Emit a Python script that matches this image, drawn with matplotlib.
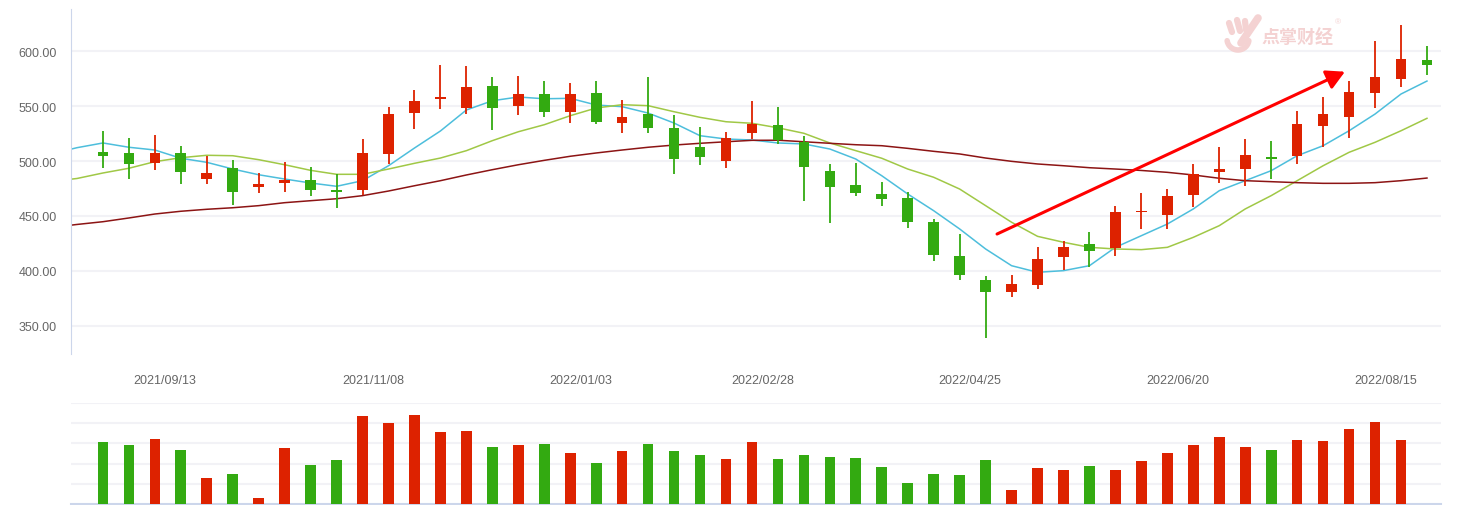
import numpy as np
import pandas as pd
import matplotlib.pyplot as plt
from matplotlib.lines import Line2D

# weekly bars, spring festival week (2022-01-31) closed
dates = pd.date_range('2021-08-30', '2022-08-29', freq='7D')
dates = dates[dates != pd.Timestamp('2022-01-31')]
labels = [d.strftime('%Y/%m/%d') for d in dates]

opens = [508.2, 507.3, 498.5, 507.3, 483.9, 493.6, 476.6, 480.3, 482.7, 473.6,
         473.9, 506.6, 543.9, 556.5, 548.5, 568.2, 550.3, 560.9, 544.8, 561.8,
         534.8, 542.7, 530.0, 512.7, 500.3, 525.7, 532.7, 517.3, 490.9, 478.2,
         470.0, 466.4, 444.5, 413.6, 391.8, 381.2, 387.5, 413.0, 424.5, 420.6,
         453.2, 451.2, 469.4, 490.3, 493.0, 503.6, 504.8, 532.1, 540.3, 562.1,
         574.8, 591.8]
closes = [504.8, 497.5, 507.3, 490.3, 489.1, 472.1, 479.1, 482.7, 473.9, 472.1,
          507.3, 542.7, 554.5, 557.3, 567.3, 548.5, 560.9, 544.8, 560.9, 535.7,
          540.0, 530.3, 502.1, 503.9, 520.9, 533.6, 519.4, 494.8, 476.6, 471.2,
          465.7, 444.8, 414.8, 396.6, 381.2, 388.2, 410.9, 421.8, 418.5, 453.6,
          453.8, 468.2, 488.2, 492.7, 505.5, 502.1, 533.6, 542.7, 562.7, 576.4,
          592.7, 587.5]
highs = [527.0, 520.9, 523.6, 513.6, 504.8, 500.9, 488.8, 498.8, 494.5, 488.2,
         520.0, 549.1, 564.5, 587.3, 586.4, 576.4, 577.3, 572.7, 570.9, 572.7,
         555.5, 576.4, 541.8, 530.9, 526.4, 554.5, 549.1, 522.7, 497.3, 498.2,
         480.9, 471.8, 447.3, 433.6, 395.5, 396.4, 421.8, 427.3, 435.5, 459.1,
         470.9, 474.5, 497.3, 512.7, 520.0, 518.2, 545.5, 558.2, 572.7, 609.1,
         623.6, 604.5]
lows = [493.6, 483.6, 492.1, 479.4, 479.4, 460.3, 471.2, 472.1, 468.5, 457.5,
        469.1, 497.3, 529.4, 547.5, 542.7, 528.5, 542.1, 540.3, 534.8, 533.9,
        525.7, 525.7, 488.5, 496.6, 493.9, 520.3, 515.7, 463.9, 443.9, 468.5,
        459.4, 439.4, 409.4, 392.1, 339.4, 376.6, 383.9, 401.2, 403.9, 413.9,
        438.5, 438.5, 458.5, 480.3, 477.6, 483.9, 497.6, 513.0, 521.2, 548.5,
        567.5, 578.5]
# last week has no volume bar yet
volume = [3.07, 2.92, 3.22, 2.67, 1.27, 1.47, 0.32, 2.77, 1.92, 2.17,
          4.37, 4.02, 4.42, 3.57, 3.62, 2.82, 2.92, 2.97, 2.52, 2.02,
          2.62, 2.97, 2.62, 2.42, 2.22, 3.07, 2.22, 2.42, 2.32, 2.27,
          1.82, 1.02, 1.47, 1.42, 2.17, 0.67, 1.77, 1.67, 1.87, 1.67,
          2.12, 2.52, 2.92, 3.32, 2.82, 2.67, 3.17, 3.12, 3.72, 4.07,
          3.17]

# moving averages start two weeks before the first visible bar
ma_x = np.arange(-2, 52)
ma5 = [506.4, 512.1, 516.4, 512.5, 510.0, 502.5, 498.8, 492.7, 487.5, 483.6,
       480.0, 477.0, 482.1, 495.7, 511.8, 527.3, 546.4, 554.8, 558.2, 556.6,
       557.0, 550.9, 549.4, 543.6, 534.5, 523.0, 520.0, 519.1, 516.4, 515.5,
       510.9, 501.8, 486.6, 470.0, 454.8, 438.2, 420.0, 404.8, 398.8, 400.3,
       404.8, 421.5, 432.1, 442.7, 456.4, 473.0, 482.1, 491.2, 504.8, 513.9,
       527.5, 542.7, 560.9, 572.7]
ma10 = [481.4, 484.1, 489.1, 493.4, 499.4, 503.0, 505.2, 504.8, 501.2, 496.6,
        491.5, 487.9, 487.9, 492.7, 497.9, 502.7, 509.4, 518.5, 526.6, 533.0,
        541.2, 548.2, 551.2, 550.3, 544.8, 539.7, 535.7, 534.3, 530.2, 525.2,
        516.4, 509.4, 502.5, 492.7, 485.2, 474.5, 459.4, 444.3, 431.5, 426.1,
        421.5, 420.0, 419.4, 421.5, 430.6, 441.2, 456.4, 468.5, 482.1, 495.7,
        507.9, 517.0, 527.5, 538.8]
ma30 = [439.5, 442.3, 444.8, 448.2, 451.8, 454.3, 456.1, 457.5, 459.4, 462.1,
        463.9, 465.7, 468.5, 472.7, 477.5, 482.1, 487.3, 492.1, 496.6, 500.6,
        504.3, 507.3, 510.0, 512.5, 514.5, 516.1, 517.5, 518.8, 518.9, 517.5,
        516.1, 514.8, 513.9, 511.5, 508.8, 506.4, 502.7, 499.7, 497.3, 495.7,
        493.9, 492.7, 491.4, 489.7, 487.3, 484.3, 482.1, 481.2, 480.3, 479.7,
        479.7, 480.3, 482.1, 484.5]

tick_idx = [2, 10, 18, 25, 33, 41, 49]
arrow_start = (34.44, 433.6)
arrow_end = (47.84, 581.2)

RED = '#dd2200'
GREEN = '#33aa11'
GRID = '#f2f2f6'
AXIS = '#ccd6eb'
TEXT = '#666666'
MARK = '#f4d2d2'

plt.rcParams['font.family'] = ['Liberation Sans', 'DejaVu Sans']

W, H = 1464, 506
fig = plt.figure(figsize=(W / 100, H / 100), dpi=100)
ax = fig.add_axes([0.0485, 0.2984, 0.9356, 0.6818])
axv = fig.add_axes([0.0485, 0.002, 0.9356, 0.1996])

x = np.arange(len(opens))
o = np.array(opens)
c = np.array(closes)
up = c >= o
colors = np.where(up, RED, GREEN)

ax.vlines(x, lows, highs, colors=colors, lw=1.3, zorder=3)
body = np.maximum(np.abs(c - o), 1.4)
ax.bar(x, body, bottom=np.minimum(o, c), width=0.41, color=colors, zorder=4)

ax.plot(ma_x, ma5, color='#4dbedc', lw=1.1, zorder=2)
ax.plot(ma_x, ma10, color='#a0c846', lw=1.1, zorder=2)
ax.plot(ma_x, ma30, color='#8c1414', lw=1.1, zorder=2)

ax.annotate('', xy=arrow_end, xytext=arrow_start,
            arrowprops=dict(arrowstyle='-|>,head_length=0.55,head_width=0.3',
                            color='#ff0000', lw=2.2, mutation_scale=20,
                            shrinkA=0, shrinkB=0), zorder=5)

xmin, xmax = -1.23, 51.53
ax.set_xlim(xmin, xmax)
ax.set_ylim(324.5, 638.2)
ax.set_yticks([350, 400, 450, 500, 550, 600])
ax.yaxis.set_major_formatter(plt.FormatStrFormatter('%.2f'))
ax.set_xticks(np.array(tick_idx) + 0.4)
ax.set_xticklabels([labels[i] for i in tick_idx])
ax.tick_params(axis='y', length=0, pad=10, labelsize=9, labelcolor=TEXT)
ax.tick_params(axis='x', length=0, pad=14.5, labelsize=9, labelcolor=TEXT)
ax.grid(axis='y', color=GRID, lw=1.5, zorder=0)
ax.set_axisbelow(True)
for s in ['top', 'right', 'bottom']:
    ax.spines[s].set_visible(False)
ax.spines['left'].set_color(AXIS)

# watermark (logo in pixel coords, y from top)
fig.text(1297 / W, 1 - 38.5 / H, '点掌财经', ha='center', va='center',
         fontsize=13, fontweight='bold', color=MARK,
         family=['Noto Sans CJK SC', 'DejaVu Sans'], zorder=1)
fig.text(1338 / W, 1 - 23 / H, '®', ha='center', va='center',
         fontsize=6, color=MARK, zorder=1)
strokes = [([1229, 1232], [24, 33], 4.5), ([1237, 1240], [21, 32], 4.5),
           ([1245, 1246], [22, 31], 4.5), ([1258, 1241], [19, 44], 5.5)]
for sx, sy, w in strokes:
    fig.add_artist(Line2D(np.array(sx) / W, 1 - np.array(sy) / H, lw=w,
                          color=MARK, solid_capstyle='round',
                          transform=fig.transFigure))
t = np.linspace(np.pi * 1.05, np.pi * 1.95, 20)
fig.add_artist(Line2D((1238 + 11 * np.cos(t)) / W, 1 - (40 - 11 * np.sin(t)) / H,
                      lw=4, color=MARK, solid_capstyle='round',
                      transform=fig.transFigure))

vx = np.arange(len(volume))
axv.bar(vx, volume, width=0.41, color=colors[:len(volume)], zorder=3)
axv.set_xlim(xmin, xmax)
axv.set_ylim(0, 5)
axv.set_yticks([1, 2, 3, 4, 5])
axv.set_xticks([])
axv.tick_params(axis='y', length=0, labelleft=False)
axv.grid(axis='y', color=GRID, lw=1.5, zorder=0)
axv.set_axisbelow(True)
for s in ['top', 'right', 'left']:
    axv.spines[s].set_visible(False)
axv.spines['bottom'].set_color(AXIS)
axv.spines['bottom'].set_linewidth(1.5)

fig.savefig('out.png', dpi=100)
